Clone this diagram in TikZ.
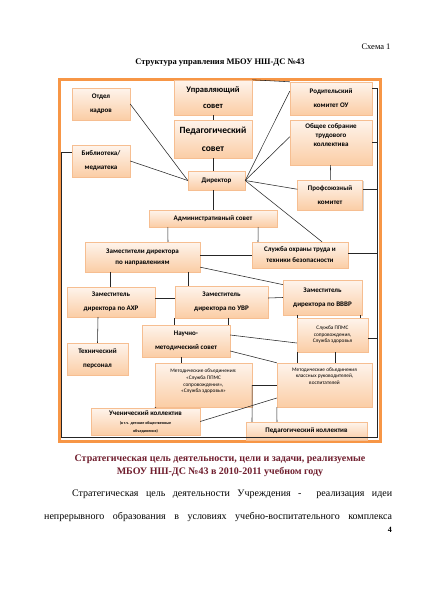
\documentclass[tikz,border=0pt]{standalone}
\usepackage{fontspec}
\setmainfont{Liberation Serif}
\newfontfamily\calib{Carlito}
\usepackage{tikz}
\usetikzlibrary{calc,shadows}

\definecolor{ramka}{RGB}{247,150,70}
\definecolor{peach}{RGB}{251,205,165}
\definecolor{peachlt}{RGB}{254,244,236}
\definecolor{peachdr}{RGB}{246,190,145}
\definecolor{bordo}{RGB}{112,30,46}

\newcommand\melk{\fontsize{4}{4.8}\selectfont}

\tikzset{
	blok/.style={draw=peachdr, line width=0.4pt, top color=peachlt, bottom color=peach,
		drop shadow={shadow xshift=1.2pt, shadow yshift=-1.2pt, fill=black!45, opacity=0.35},
		font=\calib\bfseries\fontsize{7}{8}\selectfont, align=center, inner sep=1pt},
	tonk/.style={font=\calib\fontsize{5.3}{6.6}\selectfont},
	wh/.style 2 args={minimum width=#1pt, minimum height=#2pt},
	svyaz/.style={draw=black!85, line width=0.55pt}
}

\begin{document}
\begin{tikzpicture}[x=1pt,y=-1pt]
	\useasboundingbox (0,0) rectangle (424,600);
	\fill[white] (0,0) rectangle (424,600);

	% zagolovok
	\node[anchor=east, font=\fontsize{8.5}{10}\selectfont] (shema) at (394,47) {Схема 1};
	\node[font=\bfseries\fontsize{8.5}{10}\selectfont] (zag) at (220,63) {Структура управления МБОУ НШ-ДС №43};

	% ramka
	\draw[ramka, line width=3pt] (59,79) rectangle (380,441);

	% bloki
	\node[blok, wh={58}{32}] (kadry) at (101,104) {Отдел\\[6pt]кадров};
	\node[blok, wh={78}{35}, font=\calib\bfseries\fontsize{8.5}{9}\selectfont] (upr) at (213,97.5) {Управляющий\\[7pt]совет};
	\node[blok, wh={78}{38}, font=\calib\bfseries\fontsize{9.5}{10}\selectfont] (pedsov) at (213,139) {Педагогический\\[8pt]совет};
	\node[blok, wh={82}{33}] (rod) at (331,98.5) {Родительский\\[6pt]комитет ОУ};
	\node[blok, wh={82}{45}, text depth=14pt] (obsh) at (331,142.5) {Общее собрание\\[1pt]трудового\\[1pt]коллектива};
	\node[blok, wh={58}{32}] (bibl) at (101,161) {Библиотека/\\[6pt]медиатека};
	\node[blok, wh={57}{19}] (dir) at (216.5,180.5) {Директор};
	\node[blok, wh={65}{30}] (prof) at (330,195) {Профсоюзный\\[6pt]комитет};
	\node[blok, wh={128}{17}] (adm) at (213,218.5) {Административный совет};
	\node[blok, wh={115}{30}] (zamnap) at (142.5,257) {Заместители директора\\[3pt]по направлениям};
	\node[blok, wh={96}{26}] (ohr) at (300,255) {Служба охраны труда и\\[3pt]техники безопасности};
	\node[blok, wh={88}{30}] (ahr) at (111,302) {Заместитель\\[6pt]директора по АХР};
	\node[blok, wh={93}{32}] (uvr) at (221.5,302) {Заместитель\\[6pt]директора по УВР};
	\node[blok, wh={79}{35}] (vvvr) at (322.5,297.5) {Заместитель\\[6pt]директора по ВВВР};
	\node[blok, wh={88}{32}] (nms) at (186,341) {Научно-\\[6pt]методический совет};
	\node[blok, tonk, wh={71}{34}] (ppms) at (332.5,335) {Служба ППМС\\сопровождения,\\Служба здоровья};
	\node[blok, wh={61}{32}] (tehn) at (97.5,359) {Технический\\[6pt]персонал};
	\node[blok, tonk, wh={97}{44}, text depth=8pt] (mo1) at (203.5,385) {Методические объединения:\\«Служба ППМС\\сопровождения»,\\«Служба здоровья»};
	\node[blok, tonk, wh={95}{44}, text depth=18pt] (mo2) at (324.5,385) {Методические объединения\\классных руководителей,\\воспитателей};
	\node[blok, wh={109}{27}] (uch) at (145.5,421.5) {Ученический коллектив\\[1pt]\melk (в т.ч. детские общественные\\\melk объединения)};
	\node[blok, wh={121}{18}] (pedkol) at (306.5,431) {Педагогический коллектив};

	% svyazi verh
	\draw[svyaz] (upr.north east) -- (rod.north west);
	\draw[svyaz] (upr) -- (pedsov);
	\draw[svyaz] (pedsov.south) -- ([xshift=-3.5pt]dir.north);
	\draw[svyaz] (kadry.east) -- (dir.west);
	\draw[svyaz] (bibl.east) -- (dir.west);
	\draw[svyaz] (dir.east) -- (rod.170);
	\draw[svyaz] (dir.east) -- (obsh.172);
	\draw[svyaz] (dir.east) -- (prof.170);
	\draw[svyaz] (dir.east) -- ([xshift=22pt]ohr.north);
	\draw[svyaz] (obsh) -- (prof);
	\draw[svyaz] ([xshift=-3.5pt]dir.south) -- (adm.north);

	% obshchaya liniya po kraju
	\coordinate (lb) at (61.5,437.5);
	\coordinate (rb) at (377,437.5);
	\draw[svyaz] ([yshift=9pt]bibl.west) -| (lb) -- (rb) |- ([yshift=10pt]rod.east);
	\draw[svyaz] (obsh.east) -| (rb);
	\draw[svyaz] ([yshift=6pt]prof.east) -| (rb);
	\draw[svyaz] ([yshift=2pt]ohr.east) -| (rb);
	\draw[svyaz] ([yshift=-3pt]ppms.east) -| (rb);

	% svyazi seredina
	\draw[svyaz] ([xshift=19pt]adm.south west) -- ([xshift=25.5pt]zamnap.north);
	\draw[svyaz] ([xshift=-19pt]adm.south east) -- ([xshift=-42pt]ohr.north);
	\draw[svyaz] (zamnap.east |- ohr.west) -- (ohr.west);
	\draw[svyaz] ([xshift=-32.5pt]zamnap.south) -- ([xshift=-1pt]ahr.north);
	\draw[svyaz] ([xshift=45.5pt]zamnap.south) -- ([xshift=-33.5pt]uvr.north);
	\draw[svyaz] (zamnap.-10) -- (vvvr.162);
	\draw[svyaz] ([yshift=4pt]ahr.east) -- ([yshift=4pt]uvr.west);
	\draw[svyaz] ([yshift=4pt]uvr.east) -- (vvvr.west);

	% svyazi niz
	\draw[svyaz] ([xshift=-13pt]ahr.south) -- (tehn.north);
	\draw[svyaz] ([xshift=-47.5pt]uvr.south) -- ([xshift=-12pt]nms.north);
	\draw[svyaz] ([xshift=6.5pt]uvr.south) -- ([xshift=42pt]nms.north);
	\draw[svyaz] ([xshift=-25.5pt]vvvr.south) -- ([xshift=-35.5pt]ppms.north);
	\draw[svyaz] ([xshift=38pt]vvvr.south) -- ([xshift=28pt]ppms.north);
	\draw[svyaz] ([xshift=-5pt]nms.south) -- ([xshift=-22.5pt]mo1.north);
	\draw[svyaz] ([yshift=6pt]nms.east) -- ([yshift=-8pt]ppms.west);
	\draw[svyaz] ([yshift=-10pt]nms.east) -- (mo2.north west);
	\draw[svyaz] ([xshift=-35.5pt]ppms.south) -- ([xshift=-27.5pt]mo2.north);
	\draw[svyaz] ([xshift=2.5pt]ppms.south) -- ([xshift=10.5pt]mo2.north);
	\draw[svyaz] (mo1) -- (mo2);
	\draw[svyaz] (mo1.east) -- ([xshift=-54.5pt]pedkol.north);
	\draw[svyaz] (mo2.south west) -- ([xshift=-29.5pt]pedkol.north);
	\draw[svyaz] (mo1.south west) -- ([xshift=10.5pt]uch.north);
	\draw[svyaz] (uch.east) -- ([yshift=-13pt]mo2.west);

	% tekst pod skhemoj
	\node[bordo, font=\bfseries\fontsize{10}{12.5}\selectfont, align=center] (cel) at (220,466) {Стратегическая цель деятельности, цели и задачи, реализуемые\\МБОУ НШ-ДС №43 в 2010-2011 учебном году};
	\node[anchor=base west, inner sep=0pt, font=\fontsize{10}{12}\selectfont] (abz1) at (72,496) {\makebox[320pt][s]{Стратегическая цель деятельности Учреждения -\ \ реализация идеи}};
	\node[anchor=base west, inner sep=0pt, font=\fontsize{10}{12}\selectfont] (abz2) at (44,519) {\makebox[348pt][s]{непрерывного образования в условиях учебно-воспитательного комплекса}};
	\node[anchor=base east, inner sep=0pt, font=\bfseries\fontsize{8}{10}\selectfont] (nomer) at (392,532) {4};
\end{tikzpicture}
\end{document}
